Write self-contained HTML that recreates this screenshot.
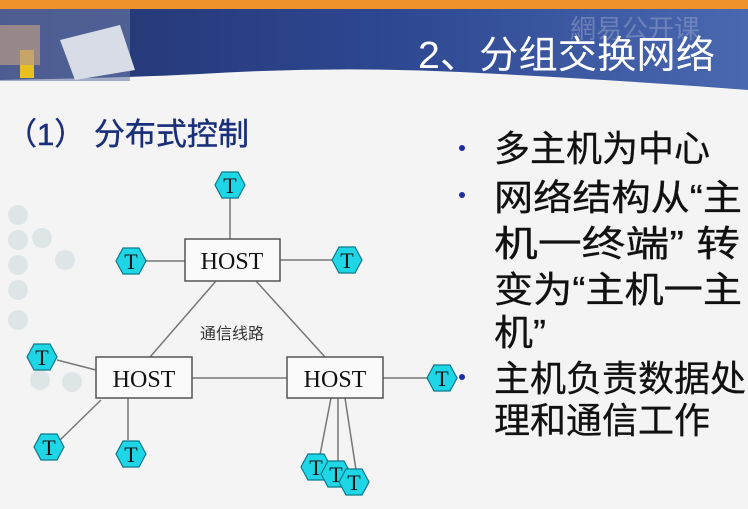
<!DOCTYPE html>
<html><head><meta charset="utf-8"><style>
html,body{margin:0;padding:0;width:748px;height:509px;overflow:hidden;background:#f4f4f4}
svg{display:block}
</style></head><body>
<svg width="748" height="509" viewBox="0 0 748 509" xmlns="http://www.w3.org/2000/svg" font-family="'Liberation Sans','Noto Sans CJK SC',sans-serif">
<defs>
<linearGradient id="bn" x1="0" x2="1" y1="0" y2="0">
<stop offset="0" stop-color="#24346e"/><stop offset="0.5" stop-color="#2c4690"/><stop offset="1" stop-color="#4a68b0"/>
</linearGradient>
<symbol id="T" viewBox="0 0 32 28">
<polygon points="8,1 24,1 31,14 24,27 8,27 1,14" fill="#1fd6e6" stroke="#0a7a8a" stroke-width="1.2"/>
<text x="16" y="22" text-anchor="middle" font-family="'Liberation Serif',serif" font-size="22" fill="#111">T</text>
</symbol>
</defs>
<rect width="748" height="509" fill="#f4f4f4"/>
<rect x="0" y="0" width="748" height="9" fill="#f0922a"/>
<rect x="0" y="9" width="748" height="82" fill="url(#bn)"/>
<path d="M0,91 L0,80 Q120,78 200,74 Q330,66 460,72 Q620,80 748,90 L748,91 Z" fill="#f4f4f4"/>
<rect x="0" y="9" width="130" height="72" fill="#6a7aa8" opacity="0.6"/>
<polygon points="60,40 120,25 135,70 75,80" fill="#d8dce6"/>
<rect x="20" y="50" width="14" height="28" fill="#e8c020"/>
<rect x="0" y="25" width="40" height="40" fill="#b89a88" opacity="0.7"/>
<text x="570" y="38" font-size="26" fill="#8a9ac8" opacity="0.6">網易公开课</text>
<text x="418" y="68" font-size="38" fill="#ffffff" textLength="297" lengthAdjust="spacingAndGlyphs">2、分组交换网络</text>
<g fill="#c8d8dc" opacity="0.5">
<circle cx="18" cy="215" r="10"/><circle cx="18" cy="240" r="10"/><circle cx="18" cy="265" r="10"/><circle cx="18" cy="290" r="10"/>
<circle cx="42" cy="238" r="10"/><circle cx="65" cy="260" r="10"/><circle cx="18" cy="320" r="10"/><circle cx="40" cy="380" r="10"/><circle cx="72" cy="382" r="10"/>
</g>
<text x="6" y="145" font-size="31" fill="#1a2f7a" stroke="#1a2f7a" stroke-width="0.4">（1） 分布式控制</text>
<g stroke="#777" stroke-width="1.5">
<line x1="230" y1="198" x2="230" y2="239"/>
<line x1="146" y1="261" x2="185" y2="261"/>
<line x1="280" y1="260" x2="332" y2="260"/>
<line x1="216" y1="281" x2="150" y2="357"/>
<line x1="256" y1="281" x2="325" y2="357"/>
<line x1="192" y1="378" x2="287" y2="378"/>
<line x1="383" y1="378" x2="428" y2="378"/>
<line x1="57" y1="360" x2="96" y2="370"/>
<line x1="101" y1="400" x2="60" y2="440"/>
<line x1="128" y1="398" x2="128" y2="440"/>
<line x1="331" y1="398" x2="320" y2="455"/>
<line x1="338" y1="398" x2="338" y2="462"/>
<line x1="345" y1="398" x2="356" y2="470"/>
</g>
<g fill="#fafafa" stroke="#555" stroke-width="1.5">
<rect x="185" y="239" width="95" height="42"/>
<rect x="96" y="357" width="96" height="41"/>
<rect x="287" y="357" width="96" height="41"/>
</g>
<g font-family="'Liberation Serif',serif" font-size="24" fill="#111" text-anchor="middle">
<text x="232" y="269">HOST</text><text x="144" y="387">HOST</text><text x="335" y="387">HOST</text>
</g>
<text x="232" y="339" font-size="16" fill="#333" text-anchor="middle">通信线路</text>
<use href="#T" x="214" y="171" width="32" height="28"/>
<use href="#T" x="115" y="247" width="32" height="28"/>
<use href="#T" x="331" y="246" width="32" height="28"/>
<use href="#T" x="26" y="343" width="32" height="28"/>
<use href="#T" x="33" y="433" width="32" height="28"/>
<use href="#T" x="115" y="440" width="32" height="28"/>
<use href="#T" x="426" y="364" width="32" height="28"/>
<use href="#T" x="300" y="453" width="32" height="28"/>
<use href="#T" x="320" y="460" width="32" height="28"/>
<use href="#T" x="338" y="468" width="32" height="28"/>
<g fill="#1a2fa0"><circle cx="462" cy="148" r="3"/><circle cx="462" cy="195" r="3"/><circle cx="462" cy="377" r="3"/></g>
<g font-size="36" fill="#111" stroke="#111" stroke-width="0.3">
<text x="494" y="161">多主机为中心</text>
<text x="494" y="210" textLength="248" lengthAdjust="spacingAndGlyphs">网络结构从“主</text>
<text x="494" y="256" textLength="246" lengthAdjust="spacingAndGlyphs">机一终端” 转</text>
<text x="494" y="302" textLength="248" lengthAdjust="spacingAndGlyphs">变为“主机一主</text>
<text x="494" y="345" textLength="52" lengthAdjust="spacingAndGlyphs">机”</text>
<text x="494" y="391">主机负责数据处</text>
<text x="494" y="433">理和通信工作</text>
</g>
</svg>
</body></html>
